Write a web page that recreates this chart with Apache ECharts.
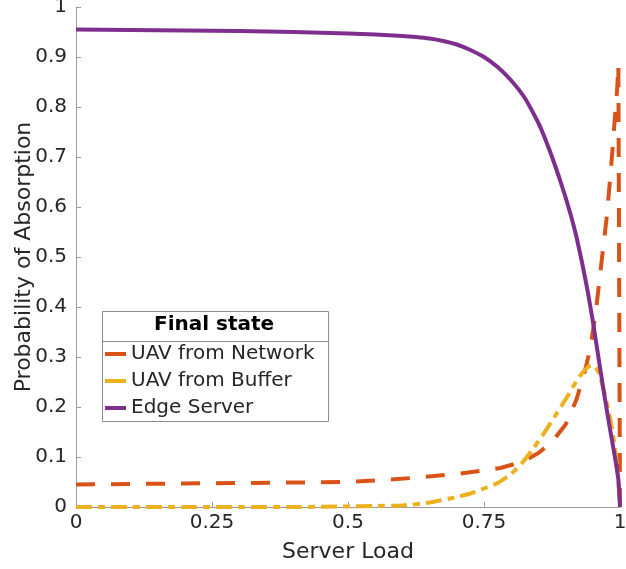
<!DOCTYPE html>
<html>
<head>
<meta charset="utf-8">
<script src="https://cdn.jsdelivr.net/npm/echarts@6/dist/echarts.min.js"></script>
<style>
  html, body { margin: 0; padding: 0; background: #fff; }
  #chart { width: 626px; height: 569px; }
</style>
</head>
<body>
<div id="chart"></div>
<script>
// Absorption probabilities versus server load
const networkLoad = [0, 0.1, 0.2, 0.3, 0.4, 0.5, 0.57, 0.64, 0.7, 0.75, 0.78, 0.82, 0.85, 0.875, 0.9, 0.92, 0.935, 0.945, 0.955, 0.965, 0.975, 0.983, 0.99, 0.995, 0.997, 1];
const networkProb = [0.045, 0.046, 0.047, 0.048, 0.049, 0.05, 0.054, 0.06, 0.066, 0.073, 0.078, 0.09, 0.108, 0.13, 0.165, 0.215, 0.27, 0.315, 0.385, 0.48, 0.574, 0.67, 0.77, 0.84, 0.885, 0];

const bufferLoad = [0, 0.1, 0.2, 0.3, 0.4, 0.5, 0.55, 0.6, 0.65, 0.7, 0.725, 0.75, 0.775, 0.8, 0.82, 0.84, 0.86, 0.88, 0.9, 0.92, 0.93, 0.94, 0.947, 0.955, 0.962, 0.97, 0.978, 0.985, 0.992, 0.997, 1];
const bufferProb = [0, 0, 0, 0, 0, 0.001, 0.002, 0.003, 0.009, 0.02, 0.027, 0.037, 0.048, 0.066, 0.088, 0.116, 0.147, 0.181, 0.215, 0.252, 0.267, 0.279, 0.283, 0.279, 0.266, 0.235, 0.198, 0.16, 0.108, 0.05, 0];

const edgeLoad = [0, 0.1, 0.2, 0.3, 0.4, 0.5, 0.55, 0.6, 0.625, 0.65, 0.675, 0.7, 0.725, 0.75, 0.775, 0.8, 0.825, 0.85, 0.86, 0.87, 0.88, 0.89, 0.9, 0.91, 0.92, 0.93, 0.94, 0.95, 0.96, 0.97, 0.98, 0.99, 0.997, 1];
const edgeProb = [0.955, 0.954, 0.953, 0.952, 0.95, 0.947, 0.945, 0.942, 0.94, 0.937, 0.932, 0.925, 0.914, 0.9, 0.88, 0.853, 0.818, 0.768, 0.743, 0.715, 0.685, 0.653, 0.619, 0.582, 0.54, 0.49, 0.435, 0.372, 0.302, 0.232, 0.166, 0.104, 0.055, 0];

const seriesNames = ['UAV from Network', 'UAV from Buffer', 'Edge Server'];
const seriesColors = ['#D95319', '#EDB120', '#7E2F8E'];
const legendTitle = 'Final state';
const xTitle = 'Server Load';
const yTitle = 'Probability of Absorption';

const pairs = (xs, ys) => xs.map((x, i) => [x, ys[i]]);

const font = 'DejaVu Sans';
const textColor = '#262626';
const axisColor = '#9a9a9a';

const chart = echarts.init(document.getElementById('chart'), null, { renderer: 'canvas' });

const axisCommon = {
  type: 'value',
  min: 0,
  max: 1,
  nameLocation: 'middle',
  nameMoveOverlap: false,
  nameTextStyle: { fontFamily: font, fontSize: 22, color: textColor },
  axisLine: { show: true, lineStyle: { color: axisColor, width: 1 } },
  axisTick: { show: true, inside: true, length: 5, lineStyle: { color: axisColor } },
  axisLabel: { fontFamily: font, fontSize: 20, color: textColor },
  splitLine: { show: false }
};

chart.setOption({
  animation: false,
  backgroundColor: '#fff',
  grid: { left: 76, right: 6, top: 7, bottom: 62, containLabel: false, outerBoundsMode: 'none' },
  xAxis: Object.assign({}, axisCommon, {
    interval: 0.25,
    name: xTitle,
    nameGap: 34,
    axisLabel: Object.assign({}, axisCommon.axisLabel, { margin: 6 })
  }),
  yAxis: Object.assign({}, axisCommon, {
    interval: 0.1,
    name: yTitle,
    nameGap: 41,
    axisLabel: Object.assign({}, axisCommon.axisLabel, { margin: 9 })
  }),
  legend: {
    orient: 'vertical',
    left: 105,
    top: 344,
    padding: 0,
    itemGap: 7,
    itemWidth: 21,
    itemHeight: 4,
    icon: 'rect',
    data: seriesNames,
    textStyle: { fontFamily: font, fontSize: 20, color: textColor, lineHeight: 20, padding: [0, 0, 0, 0] }
  },
  graphic: [
    {
      type: 'rect',
      shape: { x: 102.5, y: 311.5, width: 226, height: 110 },
      style: { fill: '#fff', stroke: '#8c8c8c', lineWidth: 1 },
      z: -1
    },
    {
      type: 'line',
      shape: { x1: 102.5, y1: 341.5, x2: 328.5, y2: 341.5 },
      style: { stroke: '#8c8c8c', lineWidth: 1 },
      z: 100
    },
    {
      type: 'text',
      left: 215 - 61,
      top: 315,
      style: { text: legendTitle, fontFamily: font, fontSize: 20, fontWeight: 'bold', fill: '#000' },
      z: 100
    }
  ],
  series: [
    {
      name: seriesNames[0],
      type: 'line',
      data: pairs(networkLoad, networkProb),
      showSymbol: false,
      color: seriesColors[0],
      lineStyle: { width: 4, type: [19, 16], color: seriesColors[0] },
      z: 2
    },
    {
      name: seriesNames[1],
      type: 'line',
      data: pairs(bufferLoad, bufferProb),
      showSymbol: false,
      smooth: 0.15,
      color: seriesColors[1],
      lineStyle: { width: 4, type: [16, 6, 7, 6], color: seriesColors[1] },
      z: 3
    },
    {
      name: seriesNames[2],
      type: 'line',
      data: pairs(edgeLoad, edgeProb),
      showSymbol: false,
      smooth: 0.15,
      color: seriesColors[2],
      lineStyle: { width: 4, color: seriesColors[2] },
      z: 4
    }
  ]
});
</script>
</body>
</html>
